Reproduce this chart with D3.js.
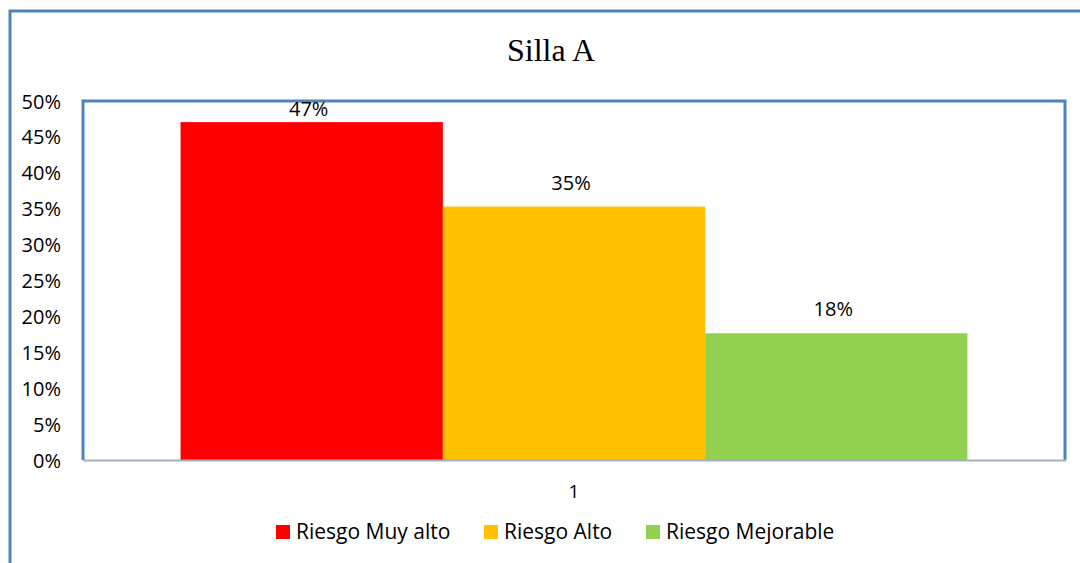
<!DOCTYPE html>
<html>
<head>
<meta charset="utf-8">
<script src="https://cdn.jsdelivr.net/npm/d3@7"></script>
<style>
  body { margin: 0; background: #fff; }
  text { font-family: "Open Sans", "Liberation Sans", sans-serif; fill: #000; }
</style>
</head>
<body>
<div id="chart"></div>
<script>
var categories = ["1"]
var series = ["Riesgo Muy alto", "Riesgo Alto", "Riesgo Mejorable"]
var values = [8 / 17, 6 / 17, 3 / 17]
var colors = ["#ff0000", "#ffc000", "#92d050"]
var yTicks = [0, 0.05, 0.1, 0.15, 0.2, 0.25, 0.3, 0.35, 0.4, 0.45, 0.5]

var width = 1080, height = 563
var plot = { left: 83, top: 101, right: 1065, bottom: 460 }

var svg = d3.select("#chart").append("svg")
  .attr("width", width)
  .attr("height", height)

// outer chart frame
svg.append("rect")
  .attr("x", 10).attr("y", 11)
  .attr("width", width + 20).attr("height", height + 20)
  .attr("fill", "none")
  .attr("stroke", "#4f81bd")
  .attr("stroke-width", 3)

svg.append("text")
  .attr("x", 551).attr("y", 61)
  .attr("text-anchor", "middle")
  .style("font-family", "'Liberation Serif', 'Times New Roman', serif")
  .style("font-size", "32px")
  .text("Silla A")

var y = d3.scaleLinear().domain([0, 0.5]).range([plot.bottom, plot.top])
var x0 = d3.scaleBand().domain(categories).range([plot.left, plot.right]).paddingInner(0).paddingOuter(0.124)
var x1 = d3.scaleBand().domain(series).range([0, x0.bandwidth()]).padding(0)

// plot area frame
svg.append("path")
  .attr("d", "M" + plot.left + "," + plot.bottom + "V" + plot.top + "H" + plot.right + "V" + plot.bottom)
  .attr("fill", "none")
  .attr("stroke", "#4f81bd")
  .attr("stroke-width", 3)

var g = svg.append("g")
g.selectAll("rect.bar")
  .data(series.map(function (s, i) { return { name: s, value: values[i], color: colors[i], cat: categories[0] } }))
  .enter().append("rect")
  .attr("class", "bar")
  .attr("x", function (d) { return x0(d.cat) + x1(d.name) })
  .attr("width", x1.bandwidth())
  .attr("y", function (d) { return y(d.value) })
  .attr("height", function (d) { return y(0) - y(d.value) })
  .attr("fill", function (d) { return d.color })

// data labels, pushed down when they would leave the plot (like Excel)
g.selectAll("text.lbl")
  .data(series.map(function (s, i) { return { name: s, value: values[i], cat: categories[0] } }))
  .enter().append("text")
  .attr("class", "lbl")
  .attr("x", function (d) { return x0(d.cat) + x1(d.name) + x1.bandwidth() / 2 - 3 })
  .attr("y", function (d) { return Math.max(y(d.value) - 17, plot.top + 15) })
  .attr("text-anchor", "middle")
  .style("font-size", "20px")
  .text(function (d) { return Math.round(d.value * 100) + "%" })

// y axis
var yAxis = svg.append("g")
  .attr("transform", "translate(" + (plot.left - 22) + ",0)")
  .call(d3.axisLeft(y).tickValues(yTicks).tickSize(0).tickPadding(0).tickFormat(d3.format(".0%")))
yAxis.select(".domain").remove()
yAxis.selectAll("text").style("font-size", "20px").attr("dy", "0.35em")

// x axis line
svg.append("line")
  .attr("x1", plot.left).attr("x2", plot.right + 1)
  .attr("y1", plot.bottom + 0.5).attr("y2", plot.bottom + 0.5)
  .attr("stroke", "#a6b0c4").attr("stroke-width", 2)

var xAxis = svg.append("g")
  .attr("transform", "translate(0," + (plot.bottom + 24) + ")")
  .call(d3.axisBottom(x0).tickSize(0).tickPadding(0))
xAxis.select(".domain").remove()
xAxis.selectAll("text").style("font-size", "19px").attr("dy", "0.71em")

// legend
var legendX = [276, 484, 646]
var legend = svg.selectAll("g.legend")
  .data(series)
  .enter().append("g")
  .attr("class", "legend")
  .attr("transform", function (d, i) { return "translate(" + legendX[i] + ",525)" })
legend.append("rect")
  .attr("width", 14).attr("height", 14)
  .attr("fill", function (d, i) { return colors[i] })
legend.append("text")
  .attr("x", 20).attr("y", 7).attr("dy", "0.35em")
  .style("font-size", "21px")
  .text(function (d) { return d })
</script>
</body>
</html>
